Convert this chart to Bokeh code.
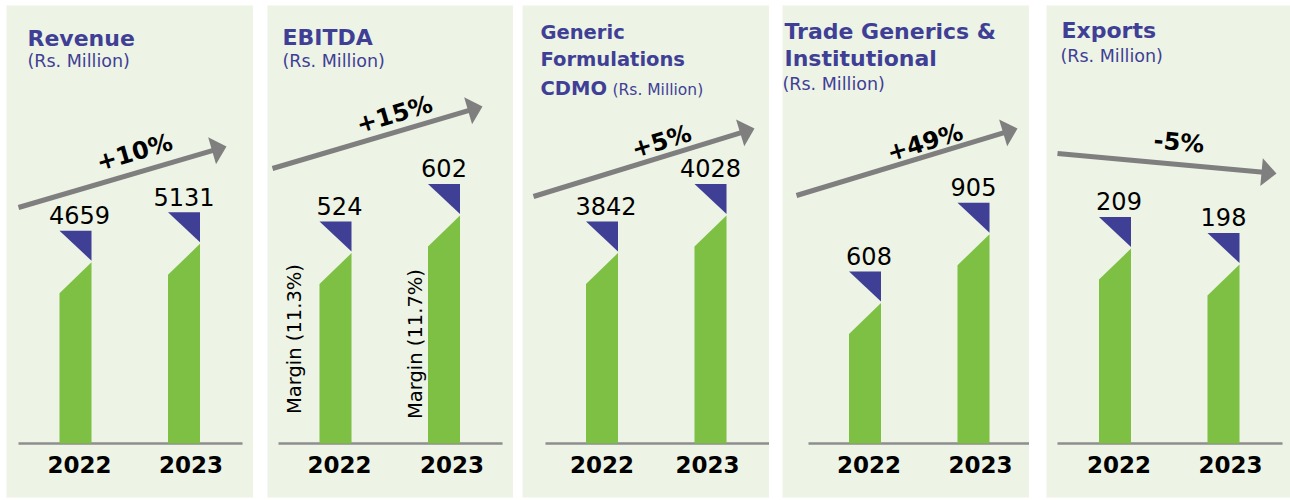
import math
from bokeh.plotting import figure
from bokeh.layouts import row
from bokeh.models import Range1d
from bokeh.core.properties import value
from bokeh.embed import file_html
from bokeh.resources import INLINE

# ---------------- data ----------------
YEARS = ["2022", "2023"]
TITLES = [["Revenue"], ["EBITDA"], ["Generic", "Formulations", "CDMO"],
          ["Trade Generics &", "Institutional"], ["Exports"]]
UNIT_TEXT = "(Rs.  Million)"
REVENUE = [4659, 5131]
EBITDA = [524, 602]
CDMO = [3842, 4028]
TRADE = [608, 905]
EXPORTS = [209, 198]
SERIES = [REVENUE, EBITDA, CDMO, TRADE, EXPORTS]
GROWTH = ["+10%", "+15%", "+5%", "+49%", "-5%"]
EBITDA_MARGIN = ["Margin (11.3%)", "Margin (11.7%)"]

# ---------------- style / layout ----------------
FONT = "DejaVu Sans"
BG = "#EDF3E5"
GREEN = "#7DC043"
NAVY = "#3F3F96"
GREY = "#7F7F7F"
BASE_GREY = "#8E8E8E"

FIG_H = 500
FRAME_TOP = 5
FRAME_H = 492
BASE_Y = 443          # baseline (page px)
STEP = 108.5          # px between the two year categories
BAR_HALF = 16         # px
SLANT = 31            # px
TRI_TOP = 31.5        # px above bar top (right edge)
TRI_TIP = 1.5
LABEL_GAP = 7
HEAD_LEN = 15
HEAD_HALF = 14
CAP_MID = 0.365       # cap-height centre, in em, above the text baseline

# per panel: frame left/width, gap before, first bar centre, value at baseline,
# px per unit, baseline extent, arrow, growth text centre, title pos, unit pos
PANELS = [
    dict(left=6, w=247, gap=6, bar0=75, y0=0, k=1 / 25.7, base=(18, 242),
         arrow=((18, 207), (226, 146)), gc=(134, 152),
         tx=27, ty=[46], tfs=22, sub=(27, 67), sfs=17.5, yoff=(4, 7)),
    dict(left=267, w=246, gap=14, bar0=335, y0=130, k=0.4833, base=(278, 502),
         arrow=((272, 168), (482, 106)), gc=(394, 114),
         tx=282, ty=[45], tfs=22, sub=(282, 67), sfs=17.5, yoff=(4, 8)),
    dict(left=522, w=247, gap=9, bar0=601.5, y0=2897, k=0.2016, base=(545, 769),
         arrow=((533, 196), (754, 128)), gc=(661, 141),
         tx=540, ty=[39, 66.5, 95.5], tfs=19.5, sub=(612, 95.5), sfs=15.5, yoff=(0, -3)),
    dict(left=782, w=247, gap=13, bar0=864.5, y0=0, k=0.2312, base=(808, 1029),
         arrow=((796, 195), (1017, 128)), gc=(924.5, 142),
         tx=784, ty=[39, 66.5], tfs=22, sub=(782, 90), sfs=17.5, yoff=(4, 7)),
    dict(left=1046, w=244, gap=17, bar0=1114.5, y0=75, k=1.4545, base=(1057, 1282),
         arrow=((1057, 153), (1276, 173)), gc=(1178.5, 142),
         tx=1061, ty=[38], tfs=22, sub=(1060, 62), sfs=17.5, yoff=(4, 7)),
]
MARGIN_POS = [(-41, 338.5), (-29, 343.5)]   # px offset from bar centre, page y centre
VALUE_FS = 24
YEAR_FS = 23
YEAR_BASELINE = 472.5


def build(idx):
    c = PANELS[idx]
    vals = SERIES[idx]
    k = c["k"]

    def X(px):
        return (px - c["bar0"]) / STEP

    def Y(py):
        return c["y0"] + (BASE_Y - py) / k

    p = figure(width=c["gap"] + c["w"], height=FIG_H,
               frame_width=c["w"], frame_height=FRAME_H,
               x_range=Range1d(X(c["left"]), X(c["left"] + c["w"])),
               y_range=Range1d(Y(FRAME_TOP + FRAME_H), Y(FRAME_TOP)),
               x_axis_type=None, y_axis_type=None, title=None,
               toolbar_location=None, output_backend="svg",
               min_border_left=c["gap"], min_border_right=0,
               min_border_top=FRAME_TOP, min_border_bottom=FIG_H - FRAME_TOP - FRAME_H,
               background_fill_color=BG, border_fill_color="white",
               outline_line_color=None)
    p.grid.visible = False

    # baseline
    p.segment(x0=[X(c["base"][0])], y0=[c["y0"]], x1=[X(c["base"][1])], y1=[c["y0"]],
              line_color=BASE_GREY, line_width=2.5)

    # bars with slanted tops and navy corner triangles
    hw = BAR_HALF / STEP
    gx, gy, tx_, ty_ = [], [], [], []
    for i, v in enumerate(vals):
        L, R = i - hw, i + hw
        gx.append([L, L, R, R])
        gy.append([c["y0"], v - SLANT / k, v, c["y0"]])
        tx_.append([L, R, R])
        ty_.append([v + TRI_TOP / k, v + TRI_TOP / k, v + TRI_TIP / k])
    p.patches(gx, gy, fill_color=GREEN, line_color=None)
    p.patches(tx_, ty_, fill_color=NAVY, line_color=None)

    # value labels (centred on cap height, baseline LABEL_GAP above the triangle)
    p.text(x=[i + (4 if i == 0 else 0) / STEP for i in range(len(vals))],
           y=[v + (TRI_TOP + LABEL_GAP + CAP_MID * VALUE_FS) / k for v in vals],
           text=[str(v) for v in vals], text_align="center", text_baseline="middle",
           text_font=value(FONT), text_font_size=f"{VALUE_FS}px", text_color="black")

    # year labels
    p.text(x=[i + c["yoff"][i] / STEP for i in range(len(YEARS))],
           y=[Y(YEAR_BASELINE - CAP_MID * YEAR_FS)] * len(YEARS), text=YEARS,
           text_align="center", text_baseline="middle",
           text_font=value(FONT), text_font_size=f"{YEAR_FS}px", text_font_style="bold",
           text_color="black")

    # growth arrow
    (sx, sy), (ex, ey) = c["arrow"]
    L = math.hypot(ex - sx, ey - sy)
    ux, uy = (ex - sx) / L, (ey - sy) / L
    bx, by = ex - HEAD_LEN * ux, ey - HEAD_LEN * uy
    nx, ny = -uy, ux
    p.line(x=[X(sx), X(bx + 2 * ux)], y=[Y(sy), Y(by + 2 * uy)],
           line_color=GREY, line_width=5)
    p.patch(x=[X(ex), X(bx + HEAD_HALF * nx), X(bx - HEAD_HALF * nx)],
            y=[Y(ey), Y(by + HEAD_HALF * ny), Y(by - HEAD_HALF * ny)],
            fill_color=GREY, line_color=None)
    ang = math.atan2(sy - ey, ex - sx)
    p.text(x=[X(c["gc"][0])], y=[Y(c["gc"][1])], text=[GROWTH[idx]], angle=ang,
           text_align="center", text_baseline="middle",
           text_font=value(FONT), text_font_size="24px", text_font_style="bold",
           text_color="black")

    # titles
    lines = TITLES[idx]
    p.text(x=[X(c["tx"])] * len(lines), y=[Y(t - CAP_MID * c["tfs"]) for t in c["ty"]],
           text=lines, text_align="left", text_baseline="middle",
           text_font=value(FONT), text_font_size=f"{c['tfs']}px", text_font_style="bold",
           text_color=NAVY)
    p.text(x=[X(c["sub"][0])], y=[Y(c["sub"][1] - CAP_MID * c["sfs"])], text=[UNIT_TEXT],
           text_align="left", text_baseline="middle",
           text_font=value(FONT), text_font_size=f"{c['sfs']}px", text_color=NAVY)

    # EBITDA margins
    if idx == 1:
        p.text(x=[i + MARGIN_POS[i][0] / STEP for i in range(len(EBITDA_MARGIN))],
               y=[Y(MARGIN_POS[i][1]) for i in range(len(EBITDA_MARGIN))],
               text=EBITDA_MARGIN, angle=math.pi / 2,
               text_align="center", text_baseline="middle",
               text_font=value(FONT), text_font_size="19.5px", text_color="black")
    return p


figs = [build(i) for i in range(len(PANELS))]
layout = row(*figs, spacing=0)
open("out.html", "w").write(file_html(layout, INLINE))
